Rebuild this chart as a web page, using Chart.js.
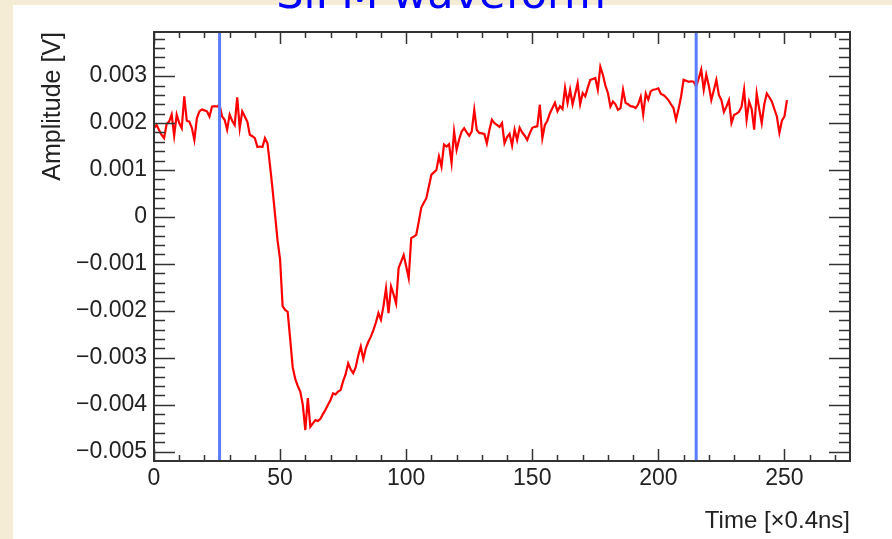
<!DOCTYPE html>
<html>
<head>
<meta charset="utf-8">
<script src="https://cdn.jsdelivr.net/npm/chart.js@4/dist/chart.umd.min.js"></script>
<style>
  html, body { margin: 0; padding: 0; }
  body { width: 892px; height: 539px; background: #f4ecd4; position: relative; overflow: hidden; }
  #panel { position: absolute; left: 13px; top: 5px; right: 0; bottom: 0; background: #fff; }
  #wrap { position: absolute; left: 0; top: 0; width: 892px; height: 539px; }
</style>
</head>
<body>
<div id="panel"></div>
<div id="wrap"><canvas id="wave"></canvas></div>
<script>
// SiPM waveform, amplitude [V] per sample (0.4 ns bins).
const amplitude = [
  0.00189, 0.00196, 0.00185, 0.00175, 0.00168, 0.00198, 0.00203, 0.00218, 0.00173, 0.00218,
  0.00200, 0.00189, 0.00257, 0.00205, 0.00203, 0.00190, 0.00164, 0.00210, 0.00225, 0.00229,
  0.00227, 0.00225, 0.00214, 0.00235, 0.00236, 0.00235, 0.00239, 0.00214, 0.00207, 0.00186,
  0.00218, 0.00205, 0.00196, 0.00255, 0.00189, 0.00225, 0.00214, 0.00203, 0.00175, 0.00172,
  0.00168, 0.00149, 0.00150, 0.00149, 0.00168, 0.00157, 0.00110, 0.00060, 0.00005, -0.00050,
  -0.00091, -0.00190, -0.00198, -0.00202, -0.00260, -0.00320, -0.00345, -0.00360, -0.00372, -0.00400,
  -0.00454, -0.00386, -0.00447, -0.00440, -0.00433, -0.00435, -0.00430, -0.00420, -0.00411, -0.00400,
  -0.00390, -0.00376, -0.00378, -0.00372, -0.00369, -0.00350, -0.00335, -0.00312, -0.00325, -0.00333,
  -0.00320, -0.00295, -0.00276, -0.00303, -0.00280, -0.00266, -0.00255, -0.00241, -0.00225, -0.00205,
  -0.00219, -0.00190, -0.00152, -0.00205, -0.00148, -0.00165, -0.00184, -0.00109, -0.00095, -0.00081,
  -0.00105, -0.00130, -0.00045, -0.00042, -0.00038, -0.00010, 0.00020, 0.00030, 0.00040, 0.00065,
  0.00090, 0.00095, 0.00100, 0.00129, 0.00107, 0.00154, 0.00150, 0.00155, 0.00115, 0.00182,
  0.00143, 0.00165, 0.00182, 0.00189, 0.00180, 0.00173, 0.00182, 0.00228, 0.00185, 0.00179,
  0.00178, 0.00177, 0.00157, 0.00185, 0.00207, 0.00200, 0.00196, 0.00192, 0.00200, 0.00157,
  0.00170, 0.00177, 0.00152, 0.00186, 0.00164, 0.00190, 0.00180, 0.00173, 0.00164, 0.00178,
  0.00190, 0.00192, 0.00193, 0.00239, 0.00168, 0.00196, 0.00205, 0.00221, 0.00232, 0.00243,
  0.00225, 0.00236, 0.00230, 0.00275, 0.00243, 0.00271, 0.00240, 0.00262, 0.00285, 0.00240,
  0.00264, 0.00257, 0.00275, 0.00292, 0.00294, 0.00296, 0.00271, 0.00320, 0.00303, 0.00280,
  0.00264, 0.00235, 0.00246, 0.00240, 0.00228, 0.00232, 0.00271, 0.00243, 0.00240, 0.00236,
  0.00235, 0.00232, 0.00240, 0.00256, 0.00218, 0.00263, 0.00250, 0.00268, 0.00271, 0.00272,
  0.00274, 0.00262, 0.00260, 0.00255, 0.00249, 0.00240, 0.00232, 0.00207, 0.00230, 0.00256,
  0.00292, 0.00290, 0.00288, 0.00289, 0.00288, 0.00278, 0.00295, 0.00314, 0.00271, 0.00303,
  0.00280, 0.00249, 0.00270, 0.00292, 0.00260, 0.00249, 0.00224, 0.00235, 0.00249, 0.00200,
  0.00217, 0.00220, 0.00224, 0.00235, 0.00271, 0.00207, 0.00246, 0.00230, 0.00186, 0.00263,
  0.00230, 0.00200, 0.00240, 0.00263, 0.00255, 0.00246, 0.00230, 0.00214, 0.00179, 0.00205,
  0.00214, 0.00249
];
const samples = amplitude.map((_, i) => i);

// integration window markers (sample index)
const markerTimes = [26, 215];

const xRange = [0, 276];
const yRange = [-0.0052, 0.00394];

const fmtVolt = v => {
  const r = Math.round(v * 1000) / 1000;
  if (r === 0) return '0';
  return (r < 0 ? '\u2212' : '') + Math.abs(r).toFixed(3);
};

// ROOT style frame with ticks pointing inwards on all four sides
const rootFrame = {
  id: 'rootFrame',
  afterDatasetsDraw(chart) {
    const {ctx, chartArea: a, scales: {x, y}} = chart;
    ctx.save();
    ctx.strokeStyle = '#333';
    ctx.lineWidth = 1.5;
    ctx.beginPath();
    for (let v = 0; v <= xRange[1]; v += 10) {
      const px = Math.round(x.getPixelForValue(v)) + 0.5;
      const len = v % 50 === 0 ? 12 : 6;
      ctx.moveTo(px, a.bottom); ctx.lineTo(px, a.bottom - len);
      ctx.moveTo(px, a.top); ctx.lineTo(px, a.top + len);
    }
    for (let k = -26; k <= 19; k++) {
      const v = k * 0.0002;
      if (v < yRange[0] || v > yRange[1]) continue;
      const py = Math.round(y.getPixelForValue(v)) + 0.5;
      const len = k % 5 === 0 ? 21 : 11;
      ctx.moveTo(a.left, py); ctx.lineTo(a.left + len, py);
      ctx.moveTo(a.right, py); ctx.lineTo(a.right - len, py);
    }
    ctx.stroke();
    ctx.lineWidth = 2;
    ctx.strokeRect(a.left, a.top, a.right - a.left, a.bottom - a.top);
    ctx.restore();
  }
};

// canvas title, mostly cut off by the top edge as in the slide
const slideTitle = {
  id: 'slideTitle',
  afterDraw(chart) {
    const {ctx} = chart;
    ctx.save();
    ctx.fillStyle = '#0000ff';
    ctx.font = '43px "DejaVu Sans"';
    ctx.textAlign = 'center';
    ctx.textBaseline = 'alphabetic';
    ctx.fillText('SiPM waveform', 441, 8);
    ctx.restore();
  }
};

const tickFont = {family: '"Liberation Sans", Arial, sans-serif', size: 23};

const markerSets = markerTimes.map(t => ({
  data: [{x: t, y: yRange[0]}, {x: t, y: yRange[1]}],
  borderColor: '#5a7cff',
  borderWidth: 3,
  pointRadius: 0,
  order: 0
}));

new Chart(document.getElementById('wave'), {
  type: 'line',
  data: {
    labels: samples,
    datasets: [
      ...markerSets,
      {
        data: amplitude,
        borderColor: '#ff0000',
        borderWidth: 2.2,
        pointRadius: 0,
        tension: 0,
        order: 1
      }
    ]
  },
  options: {
    responsive: true,
    maintainAspectRatio: false,
    animation: false,
    layout: {padding: {top: 32, right: 42, bottom: 0, left: 0}},
    plugins: {legend: {display: false}, tooltip: {enabled: false}},
    scales: {
      x: {
        type: 'linear',
        min: xRange[0],
        max: xRange[1],
        grid: {display: false, drawTicks: false},
        border: {display: false},
        ticks: {
          stepSize: 50,
          includeBounds: false,
          autoSkip: false,
          maxRotation: 0,
          padding: 4,
          color: '#222',
          font: tickFont
        },
        title: {
          display: true,
          text: 'Time [\u00d70.4ns]',
          align: 'end',
          color: '#222',
          font: {family: '"Liberation Sans", Arial, sans-serif', size: 24},
          padding: {top: 0, bottom: 3}
        },
        afterFit(scale) { scale.height = 78; }
      },
      y: {
        min: yRange[0],
        max: yRange[1],
        grid: {display: false, drawTicks: false},
        border: {display: false},
        ticks: {
          stepSize: 0.001,
          includeBounds: false,
          autoSkip: false,
          padding: 7,
          color: '#222',
          font: tickFont,
          callback: fmtVolt
        },
        title: {
          display: true,
          text: 'Amplitude [V]',
          align: 'end',
          color: '#222',
          font: {family: '"Liberation Sans", Arial, sans-serif', size: 25},
          padding: {top: 38, bottom: 0}
        },
        afterFit(scale) { scale.width = 154; }
      }
    }
  },
  plugins: [rootFrame, slideTitle]
});
</script>
</body>
</html>
